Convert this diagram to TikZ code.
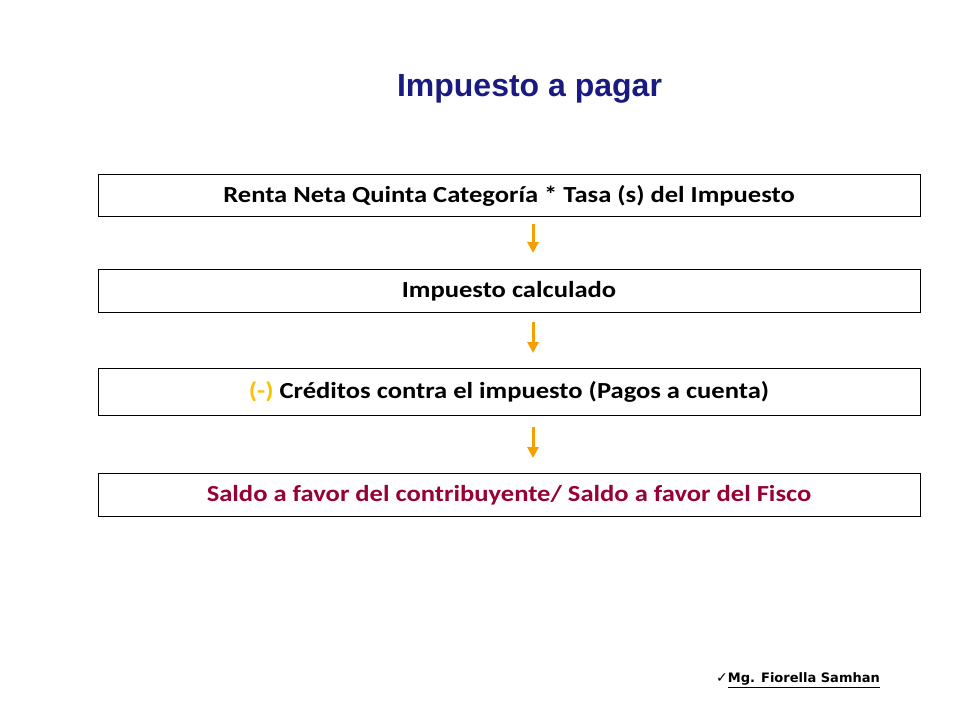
\documentclass[tikz,border=0pt]{standalone}
\usepackage{fontspec}
\usepackage{graphicx}
\setmainfont{Carlito}
\newfontfamily\titlefont{Liberation Sans}
\newfontfamily\footfont{DejaVu Sans}
\usetikzlibrary{arrows.meta}
\definecolor{titleblue}{HTML}{1A1A80}
\definecolor{arroworange}{HTML}{F5A000}
\definecolor{saldored}{HTML}{990033}
\definecolor{minusgold}{HTML}{FFC000}
\newcommand{\widetxt}[1]{\scalebox{1.155}[1]{#1}}
\tikzset{
  stepbox/.style={draw=black, line width=0.8pt, minimum width=822pt, minimum height=42pt, inner sep=0pt, text height=18pt, text depth=4pt, font=\fontsize{23}{26}\selectfont\bfseries},
  flowarrow/.style={draw=arroworange, line width=3pt, -{Triangle[length=11pt,width=11pt]}},
}
\begin{document}
\begin{tikzpicture}[x=1pt,y=-1pt]
\useasboundingbox (0,0) rectangle (960,720);
\node (title) [text=titleblue, font=\titlefont\fontsize{32}{36}\selectfont\bfseries] at (529.5,88.5) {Impuesto a pagar};
\node (b1) [stepbox] at (509,195) {\widetxt{Renta Neta Quinta Categoría * Tasa (s) del Impuesto}};
\node (b2) [stepbox, minimum height=43pt] at (509,290.5) {\widetxt{Impuesto calculado}};
\node (b3) [stepbox, minimum height=47pt] at (509,391.5) {\widetxt{\textcolor{minusgold}{(-)} Créditos contra el impuesto (Pagos a cuenta)}};
\node (b4) [stepbox, minimum height=43pt, text=saldored] at (509,494.5) {\widetxt{Saldo a favor del contribuyente/ Saldo a favor del Fisco}};
\coordinate (a1s) at (533,224); \coordinate (a1e) at (533,253);
\coordinate (a2s) at (533,322); \coordinate (a2e) at (533,353);
\coordinate (a3s) at (533,427); \coordinate (a3e) at (533,458);
\draw[flowarrow] (a1s) -- (a1e);
\draw[flowarrow] (a2s) -- (a2e);
\draw[flowarrow] (a3s) -- (a3e);
\node (foot) [anchor=west, inner sep=0pt, font=\footfont\fontsize{13}{15}\selectfont] at (716,680) {\fontsize{14}{16}\selectfont ✓\fontsize{13}{15}\selectfont\bfseries\underline{Mg. Fiorella Samhan}};
\end{tikzpicture}
\end{document}
